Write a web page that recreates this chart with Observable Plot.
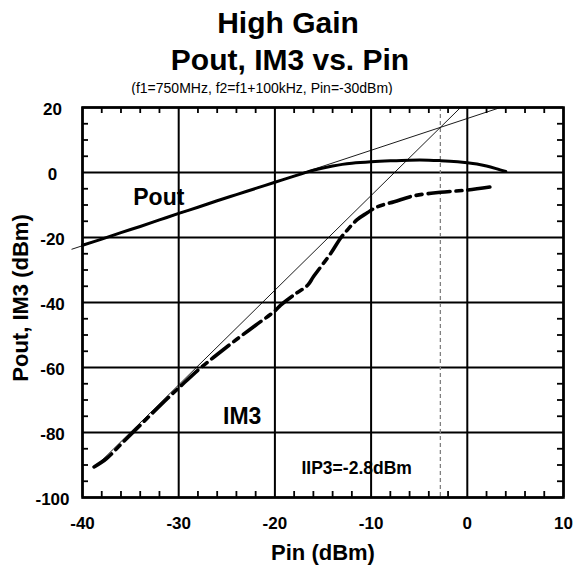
<!DOCTYPE html>
<html><head><meta charset="utf-8">
<script src="https://cdn.jsdelivr.net/npm/d3@7"></script>
<script src="https://cdn.jsdelivr.net/npm/@observablehq/plot@0.6"></script>
<style>
body{margin:0;background:#fff;}
#wrap{position:relative;width:573px;height:566px;background:#fff;font-family:"Liberation Sans",Arial,sans-serif;}
#head{position:absolute;left:0;top:0;}
#chart{position:absolute;left:0;top:95px;}
#chart svg{font-family:"Liberation Sans",Arial,sans-serif;}
</style></head><body>
<div id="wrap">
<svg id="head" width="573" height="95" font-family="Liberation Sans, Arial, sans-serif">
  <text x="288" y="33" text-anchor="middle" font-size="30" font-weight="bold">High Gain</text>
  <text x="290" y="70" text-anchor="middle" font-size="30" font-weight="bold">Pout, IM3 vs. Pin</text>
  <text x="262" y="93" text-anchor="middle" font-size="14">(f1=750MHz, f2=f1+100kHz, Pin=-30dBm)</text>
</svg>
<div id="chart"></div>
</div>
<script>
// ---- data ----
const xTicks = [-40, -30, -20, -10, 0, 10];
const yTicks = [-100, -80, -60, -40, -20, 0, 20];
const xMinor = [-38, -36, -34, -32, -28, -26, -24, -22, -18, -16, -14, -12, -8, -6, -4, -2, 2, 4, 6, 8];
const yMinor = [-95, -90, -85, -75, -70, -65, -55, -50, -45, -35, -30, -25, -15, -10, -5, 5, 10, 15];

const poutPin = [-40, -38, -36, -34, -32, -30, -28, -26, -24, -22, -20, -18, -17, -16, -15, -14, -13, -12, -10, -8, -6, -4, -2.8, -1, 0, 1, 2, 3, 4];
const poutVal = [-22.4, -20.5, -18.5, -16.6, -14.6, -12.6, -10.7, -8.7, -6.8, -4.9, -3.0, -1.1, -0.2, 0.7, 1.4, 2.0, 2.5, 2.85, 3.3, 3.6, 3.8, 3.8, 3.65, 3.3, 3.0, 2.6, 2.0, 1.2, 0.3];

const im3Pin = [-38.8, -37.5, -35.7, -33.3, -31.2, -30, -28, -26, -24, -22, -20, -19.4, -17.9, -16.6, -16.0, -14.2, -13.2, -12.5, -11.45, -10.4, -9.4, -7.6, -5.6, -2.8, 0, 2.9];
const im3Val = [-90.6, -88.0, -82.7, -75.7, -69.6, -66.3, -60.8, -56.0, -51.4, -47.0, -42.6, -40.8, -37.4, -34.7, -32.1, -24.9, -20.3, -17.8, -14.5, -12.4, -10.6, -9.0, -7.2, -6.1, -5.4, -4.2];

// extrapolation lines (slope ~1 and ~3)
const fundExtPin = [-41.1, 3.45];
const fundExtVal = [-23.6, 20];
const im3ExtPin = [-38.4, -0.7];
const im3ExtVal = [-89.8, 20];

const iip3 = -2.8;

const labelText = ["Pout", "IM3", "IIP3=-2.8dBm"];
const labelX = [-32.07, -23.4, -11.5];
const labelY = [-10.06, -77.5, -92.8];
const labelSize = [23, 23, 17.5];

// ---- tables ----
const pout = poutPin.map((x, i) => ({x, y: poutVal[i]}));
const im3 = im3Pin.map((x, i) => ({x, y: im3Val[i]}));
const fundExt = fundExtPin.map((x, i) => ({x, y: fundExtVal[i]}));
const im3Ext = im3ExtPin.map((x, i) => ({x, y: im3ExtVal[i]}));
const labels = labelText.map((t, i) => ({t, x: labelX[i], y: labelY[i], s: labelSize[i]}));

const W = 573, H = 471, mT = 12, mB = 69, mL = 82, mR = 10;
const innerH = H - mT - mB, innerW = W - mL - mR;
const tl = 6;
const fmt = d => String(d);
const tk = {stroke: "#000", strokeWidth: 1.8};

const chart = Plot.plot({
  width: W, height: H,
  marginTop: mT, marginBottom: mB, marginLeft: mL, marginRight: mR,
  style: {background: "#fff", color: "#000", fontFamily: "Liberation Sans, Arial, sans-serif"},
  x: {domain: [-40, 10]},
  y: {domain: [-100, 20]},
  marks: [
    Plot.gridX(xTicks, {stroke: "#000", strokeOpacity: 1, strokeWidth: 2}),
    Plot.gridY(yTicks, {stroke: "#000", strokeOpacity: 1, strokeWidth: 2}),
    // inside minor ticks on all four sides
    Plot.tickX(xMinor, {x: d => d, insetTop: innerH - tl, ...tk}),
    Plot.tickX(xMinor, {x: d => d, insetBottom: innerH - tl, ...tk}),
    Plot.tickY(yMinor, {y: d => d, insetRight: innerW - tl, ...tk}),
    Plot.tickY(yMinor, {y: d => d, insetLeft: innerW - tl, ...tk}),
    Plot.ruleX([iip3], {stroke: "#808080", strokeWidth: 1.3, strokeDasharray: "4,3"}),
    Plot.frame({stroke: "#000", strokeWidth: 2.6}),
    Plot.axisX(xTicks, {anchor: "bottom", tickSize: 0, tickPadding: 19, fontSize: 17, fontWeight: "bold", label: null, tickFormat: fmt, fill: "#000"}),
    Plot.axisY(yTicks, {anchor: "left", tickSize: 0, tickPadding: 30, textAnchor: "middle", dy: 2.5, fontSize: 17, fontWeight: "bold", label: null, tickFormat: fmt, fill: "#000"}),
    Plot.line(fundExt, {x: "x", y: "y", stroke: "#000", strokeWidth: 0.9}),
    Plot.line(im3Ext, {x: "x", y: "y", stroke: "#000", strokeWidth: 0.9}),
    Plot.line(pout, {x: "x", y: "y", stroke: "#000", strokeWidth: 3, curve: "catmull-rom"}),
    Plot.line(im3, {x: "x", y: "y", stroke: "#000", strokeWidth: 3.6, curve: "catmull-rom", strokeDasharray: "22,6,6,6"}),
    Plot.text(labels, {x: "x", y: "y", text: "t", fontSize: d => d.s, fontWeight: "bold", textAnchor: "middle", lineAnchor: "bottom", fill: "#000"}),
    Plot.text(["Pin (dBm)"], {frameAnchor: "bottom", dy: 62, lineAnchor: "bottom", fontSize: 22, fontWeight: "bold", fill: "#000"}),
    Plot.text(["Pout, IM3 (dBm)"], {frameAnchor: "left", rotate: -90, dx: -55, dy: -4.5, lineAnchor: "bottom", textAnchor: "middle", fontSize: 22, fontWeight: "bold", fill: "#000"})
  ]
});
document.getElementById("chart").appendChild(chart);
</script>
</body></html>
